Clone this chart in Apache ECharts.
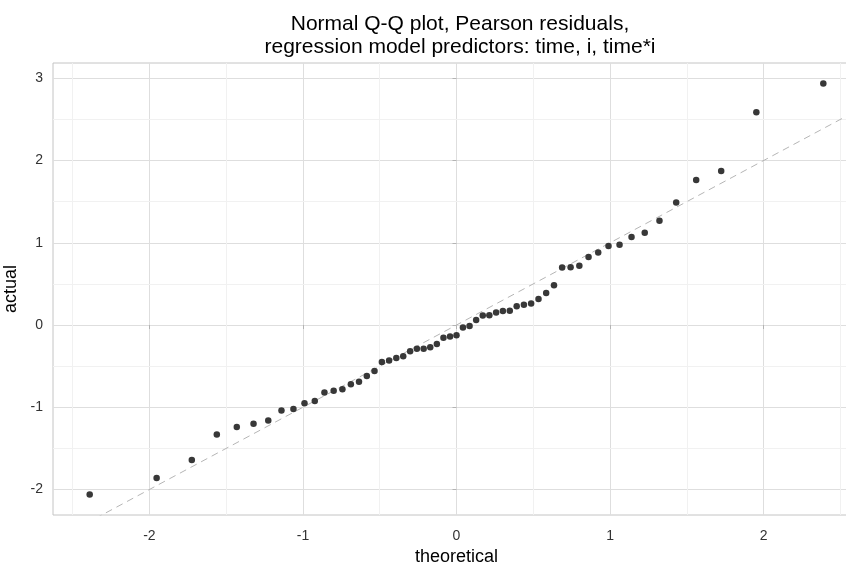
<!DOCTYPE html>
<html>
<head>
<meta charset="utf-8">
<script src="https://cdn.jsdelivr.net/npm/echarts@6/dist/echarts.min.js"></script>
<style>
html,body{margin:0;padding:0;background:#fff;}
#chart{width:846px;height:565px;}
</style>
</head>
<body>
<div id="chart"></div>
<script>
// Theoretical quantiles (x)
const theoretical = [-2.389,-1.953,-1.724,-1.561,-1.431,-1.322,-1.226,-1.140,-1.062,-0.990,
  -0.923,-0.860,-0.800,-0.743,-0.688,-0.635,-0.584,-0.534,-0.486,-0.439,
  -0.392,-0.347,-0.302,-0.258,-0.214,-0.171,-0.128,-0.085,-0.042,0,
  0.042,0.085,0.128,0.171,0.214,0.258,0.302,0.347,0.392,0.439,
  0.486,0.534,0.584,0.635,0.688,0.743,0.800,0.860,0.923,0.990,
  1.062,1.140,1.226,1.322,1.431,1.561,1.724,1.953,2.389];
// Actual Pearson residuals (y)
const actual = [-2.06,-1.86,-1.64,-1.33,-1.24,-1.20,-1.16,-1.04,-1.02,-0.95,
  -0.925,-0.82,-0.80,-0.78,-0.72,-0.69,-0.62,-0.56,-0.45,-0.43,
  -0.40,-0.38,-0.32,-0.29,-0.288,-0.27,-0.23,-0.155,-0.14,-0.125,
  -0.03,-0.012,0.06,0.115,0.12,0.152,0.17,0.174,0.227,0.245,
  0.262,0.316,0.39,0.483,0.70,0.702,0.72,0.827,0.882,0.961,
  0.977,1.07,1.123,1.269,1.49,1.764,1.873,2.588,2.936];
// Reference line y = intercept + slope * x
const refIntercept = [0];
const refSlope = [1];
// Axis ticks
const xTicks = [-2,-1,0,1,2];
const yTicks = [-2,-1,0,1,2,3];
const xMinor = [-2.5,-1.5,-0.5,0.5,1.5,2.5];
const yMinor = [-1.5,-0.5,0.5,1.5,2.5];
const xRange = [-2.628, 2.628];
const yRange = [-2.31, 3.186];

const titleText = 'Normal Q-Q plot, Pearson residuals,\nregression model predictors: time, i, time*i';
const xName = 'theoretical';
const yName = 'actual';

const FONT = '"Liberation Sans", Arial, sans-serif';
const chart = echarts.init(document.getElementById('chart'), null, {renderer: 'canvas'});

const points = theoretical.map((x, i) => [x, actual[i]]);
const refLine = xRange.map(x => [x, refIntercept[0] + refSlope[0] * x]);

const minorData = xMinor.map(v => ({xAxis: v})).concat(yMinor.map(v => ({yAxis: v})));

chart.setOption({
  animation: false,
  backgroundColor: '#ffffff',
  title: {
    text: titleText,
    left: 455,
    top: 8,
    textAlign: 'center',
    textStyle: {fontFamily: FONT, fontSize: 21, fontWeight: 'normal', color: '#000', lineHeight: 23}
  },
  grid: {
    left: 53, right: -14, top: 63, bottom: 50,
    outerBoundsMode: 'none', containLabel: false,
    show: true, borderColor: '#c4c4c4', borderWidth: 1, backgroundColor: 'transparent'
  },
  xAxis: {
    type: 'value', min: xRange[0], max: xRange[1],
    name: xName, nameLocation: 'middle', nameGap: 32,
    nameTextStyle: {fontFamily: FONT, fontSize: 18, color: '#000'},
    axisLine: {show: false},
    axisTick: {show: true, length: 4, customValues: xTicks, lineStyle: {color: '#b3b3b3'}},
    axisLabel: {customValues: xTicks, margin: 14, fontFamily: FONT, fontSize: 14, color: '#333333'},
    splitLine: {show: true, lineStyle: {color: '#dedede', width: 1}}
  },
  yAxis: {
    type: 'value', min: yRange[0], max: yRange[1],
    name: yName, nameLocation: 'middle', nameGap: 28,
    nameTextStyle: {fontFamily: FONT, fontSize: 18, color: '#000'},
    axisLine: {show: false},
    axisTick: {show: true, length: 4, customValues: yTicks, lineStyle: {color: '#b3b3b3'}},
    axisLabel: {customValues: yTicks, margin: 10, fontFamily: FONT, fontSize: 14, color: '#333333'},
    splitLine: {show: true, lineStyle: {color: '#dedede', width: 1}}
  },
  series: [
    {
      type: 'line', data: [], z: 1, silent: true,
      markLine: {
        silent: true, symbol: 'none', animation: false, z: 1,
        label: {show: false},
        lineStyle: {color: '#f1f1f1', type: 'solid', width: 1},
        emphasis: {disabled: true},
        data: minorData
      }
    },
    {
      type: 'line', data: refLine, z: 2, silent: true,
      showSymbol: false, symbol: 'none', clip: true,
      lineStyle: {color: '#b5b5b5', width: 1, type: [7, 5]}
    },
    {
      type: 'scatter', data: points, z: 3,
      symbol: 'circle', symbolSize: 6.5,
      itemStyle: {color: '#383838', opacity: 1}
    }
  ]
});
</script>
</body>
</html>
